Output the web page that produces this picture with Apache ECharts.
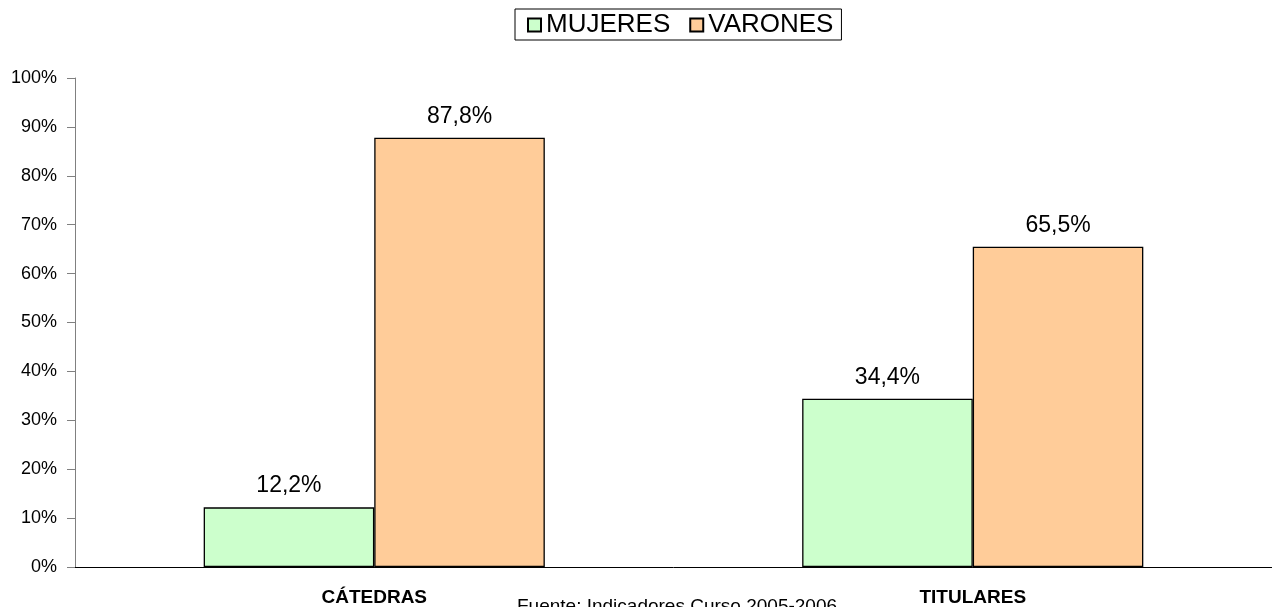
<!DOCTYPE html>
<html>
<head>
<meta charset="utf-8">
<script src="https://cdn.jsdelivr.net/npm/echarts@6/dist/echarts.min.js"></script>
<style>
  html, body { margin: 0; padding: 0; background: #fff; }
  #chart { width: 1272px; height: 607px; }
</style>
</head>
<body>
<div id="chart"></div>
<script>
// categorias y porcentajes
var categorias = ['CÁTEDRAS', 'TITULARES'];
var mujeres = [12.2, 34.4];
var varones = [87.8, 65.5];
var fuente = 'Fuente: Indicadores Curso 2005-2006';

var fuenteTexto = 'Arial, "Liberation Sans", sans-serif';

function etiqueta(p) {
	return p.value.toFixed(1).replace('.', ',') + '%';
}

var myChart = echarts.init(document.getElementById('chart'));
var option = {
	animation : false,
	textStyle : { fontFamily : fuenteTexto, color : '#000' },
	legend : {
		left : 515,
		top : 9,
		padding : [3, 8, 2, 12],
		borderColor : '#000',
		borderWidth : 1,
		itemGap : 19,
		itemWidth : 13,
		itemHeight : 13,
		icon : 'rect',
		textStyle : { fontSize : 26, color : '#000', fontFamily : fuenteTexto },
		data : ['MUJERES', 'VARONES']
	},
	grid : {
		left : 75,
		top : 78,
		width : 1200,
		height : 489
	},
	xAxis : {
		type : 'category',
		data : categorias,
		axisLine : { lineStyle : { color : '#000', width : 1 } },
		axisTick : { length : 8, lineStyle : { color : '#000' } },
		axisLabel : {
			margin : 21,
			fontSize : 19,
			fontWeight : 'bold',
			color : '#000',
			fontFamily : fuenteTexto
		}
	},
	yAxis : {
		type : 'value',
		min : 0,
		max : 100,
		interval : 10,
		splitLine : { show : false },
		axisLine : { show : true, lineStyle : { color : '#808080', width : 1 } },
		axisTick : { show : true, length : 8, lineStyle : { color : '#808080' } },
		axisLabel : {
			margin : 18,
			fontSize : 18,
			color : '#000',
			fontFamily : fuenteTexto,
			formatter : '{value}%'
		}
	},
	series : [ {
		name : 'MUJERES',
		type : 'bar',
		data : mujeres,
		barGap : '0%',
		barCategoryGap : '43%',
		itemStyle : { color : '#CCFFCC', borderColor : '#000', borderWidth : 1.3 },
		label : {
			show : true,
			position : 'top',
			distance : 10,
			fontSize : 23,
			color : '#000',
			fontFamily : fuenteTexto,
			formatter : etiqueta
		}
	}, {
		name : 'VARONES',
		type : 'bar',
		data : varones,
		barGap : '0%',
		barCategoryGap : '43%',
		itemStyle : { color : '#FFCC99', borderColor : '#000', borderWidth : 1.3 },
		label : {
			show : true,
			position : 'top',
			distance : 10,
			fontSize : 23,
			color : '#000',
			fontFamily : fuenteTexto,
			formatter : etiqueta
		}
	} ],
	graphic : [ {
		type : 'text',
		left : 517,
		top : 597,
		style : {
			text : fuente,
			fontSize : 19,
			fontFamily : fuenteTexto,
			fill : '#000'
		}
	} ]
};
myChart.setOption(option);
</script>
</body>
</html>
